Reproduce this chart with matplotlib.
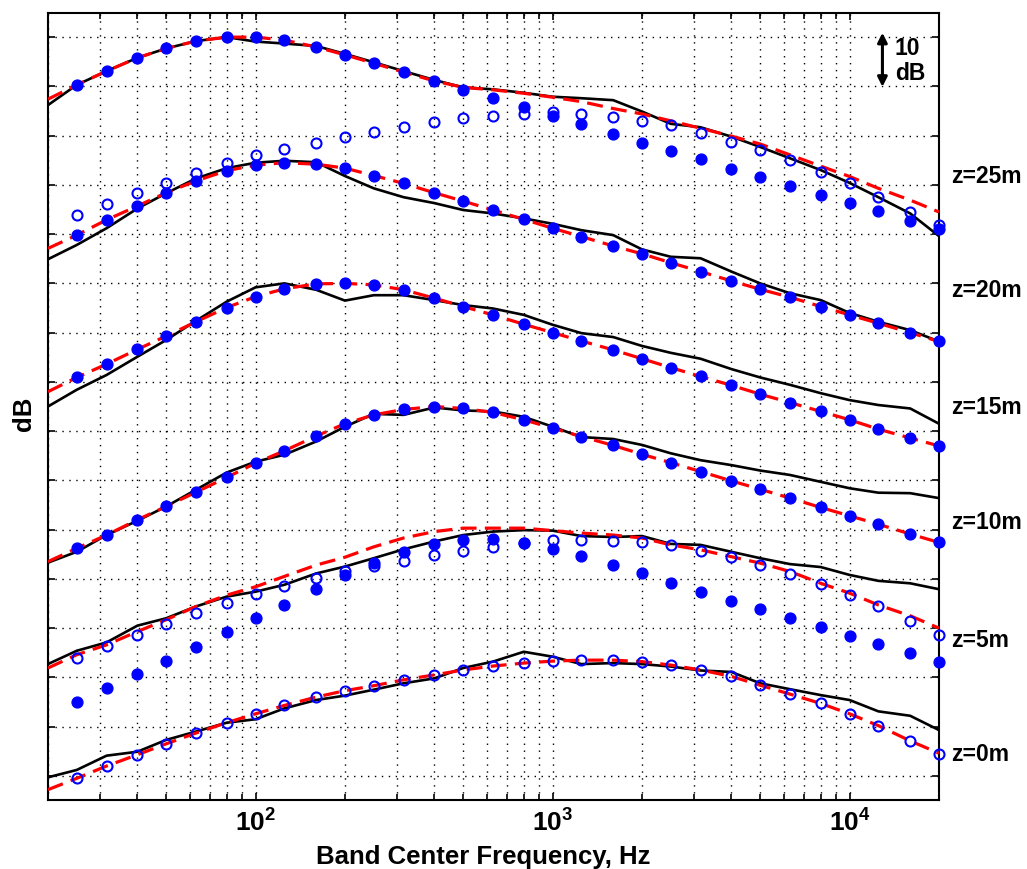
import matplotlib

matplotlib.use("Agg")
import matplotlib.pyplot as plt
from matplotlib.ticker import FixedLocator, NullFormatter

plt.rcParams["font.family"] = ["Liberation Sans", "DejaVu Sans"]
plt.rcParams["mathtext.fontset"] = "custom"
plt.rcParams["mathtext.rm"] = "Liberation Sans"
plt.rcParams["mathtext.bf"] = "Liberation Sans:bold"

# 1/3-octave band centres: curves start at 20 Hz, markers at 25 Hz
freq_line = [20, 25, 31.5, 40, 50, 63, 80, 100, 125, 160, 200, 250, 315, 400, 500,
             630, 800, 1000, 1250, 1600, 2000, 2500, 3150, 4000, 5000, 6300, 8000,
             10000, 12500, 16000, 20000]
freq_pts = freq_line[1:]

# z = 25 m
z25_solid = [136.2, 140.3, 143.1, 145.8, 147.7, 149.2, 150.0, 149.1, 148.7, 148.2, 146.6,
             144.9, 143.1, 141.3, 139.8, 139.4, 138.7, 137.9, 137.6, 137.2, 134.9, 132.4,
             131.7, 129.8, 127.7, 125.4, 123.0, 120.4, 117.5, 114.2, 109.6]
z25_dashed = [137.4, 140.3, 143.1, 145.8, 147.7, 149.2, 150.0, 150.0, 149.4, 148.0, 146.4,
              144.7, 142.9, 141.1, 139.8, 139.3, 138.6, 137.8, 136.9, 135.5, 134.4, 133.0,
              131.5, 129.9, 128.3, 126.1, 123.8, 121.7, 119.3, 116.9, 114.5]
z25_dots = [140.3, 143.1, 145.8, 147.7, 149.2, 150.0, 150.0, 149.4, 148.0, 146.4, 144.7,
            142.9, 141.1, 139.3, 137.6, 135.8, 134.0, 132.3, 130.3, 128.6, 126.9, 125.2,
            123.3, 121.5, 119.8, 118.0, 116.3, 114.6, 112.6, 111.0]
z25_rings = [113.9, 116.1, 118.3, 120.4, 122.5, 124.4, 126.0, 127.2, 128.6, 129.8, 130.7,
             131.8, 132.7, 133.5, 134.0, 134.4, 134.7, 134.4, 133.8, 133.0, 132.1, 130.6,
             128.8, 127.1, 125.0, 122.7, 120.3, 117.5, 114.5, 111.8]

# z = 20 m
z20_solid = [104.9, 107.8, 111.2, 115.2, 118.3, 121.3, 123.4, 124.5, 124.9, 124.6, 121.8,
             119.3, 117.5, 116.3, 114.9, 114.2, 113.2, 112.1, 110.8, 109.8, 106.9, 105.4,
             105.1, 102.4, 100.0, 98.0, 96.6, 94.0, 92.2, 90.5, 88.2]
z20_dashed = [107.1, 109.8, 112.9, 115.7, 118.4, 120.8, 122.9, 124.0, 124.5, 124.2, 123.4,
              121.9, 120.3, 118.4, 116.7, 114.9, 113.0, 111.2, 109.5, 107.6, 106.0, 104.2,
              102.4, 100.5, 98.8, 97.2, 95.3, 93.6, 91.9, 90.0, 88.2]
z20_dots = [109.8, 112.9, 115.7, 118.4, 120.8, 122.9, 124.0, 124.5, 124.2, 123.4, 121.9,
            120.3, 118.4, 116.7, 114.9, 113.0, 111.2, 109.5, 107.6, 106.0, 104.2, 102.4,
            100.5, 98.8, 97.2, 95.3, 93.6, 91.9, 90.0, 88.2]

# z = 15 m
z15_solid = [75.0, 78.4, 81.4, 85.1, 88.5, 92.4, 96.3, 99.2, 100.0, 98.7, 96.5, 97.6, 97.6,
             96.6, 95.6, 94.9, 93.6, 91.6, 89.9, 89.1, 87.3, 85.9, 84.7, 82.6, 80.9, 79.4,
             77.7, 76.3, 75.3, 74.6, 71.5]
z15_dashed = [78.0, 80.9, 83.6, 86.6, 89.3, 92.2, 95.1, 97.3, 98.9, 99.9, 100.0, 99.7, 98.7,
              97.0, 95.3, 93.6, 91.7, 90.0, 88.3, 86.5, 84.7, 82.9, 81.1, 79.3, 77.5, 75.8,
              74.0, 72.3, 70.4, 68.6, 67.0]
z15_dots = [80.9, 83.6, 86.6, 89.3, 92.2, 95.1, 97.3, 98.9, 99.9, 100.0, 99.7, 98.7, 97.0,
            95.3, 93.6, 91.7, 90.0, 88.3, 86.5, 84.7, 82.9, 81.1, 79.3, 77.5, 75.8, 74.0,
            72.3, 70.4, 68.6, 67.0]

# z = 10 m
z10_solid = [43.3, 45.5, 48.9, 51.8, 54.7, 58.1, 61.6, 63.8, 65.2, 67.9, 70.9, 73.5, 73.3,
             74.8, 74.2, 74.0, 72.9, 70.9, 68.8, 68.4, 67.2, 65.5, 64.1, 63.1, 62.0, 61.1,
             59.7, 58.4, 57.5, 57.4, 56.4]
z10_dashed = [43.5, 46.2, 48.9, 52.0, 54.7, 57.6, 60.6, 63.5, 66.0, 69.0, 71.5, 73.3, 74.4,
              75.0, 74.6, 73.8, 72.3, 70.6, 68.9, 67.1, 65.3, 63.6, 61.8, 59.9, 58.2, 56.4,
              54.5, 52.8, 51.1, 49.1, 47.4]
z10_dots = [46.2, 48.9, 52.0, 54.7, 57.6, 60.6, 63.5, 66.0, 69.0, 71.5, 73.3, 74.4, 75.0,
            74.6, 73.8, 72.3, 70.6, 68.9, 67.1, 65.3, 63.6, 61.8, 59.9, 58.2, 56.4, 54.5,
            52.8, 51.1, 49.1, 47.4]

# z = 5 m
z5_solid = [22.7, 25.4, 27.1, 30.5, 32.0, 34.4, 36.4, 37.4, 38.8, 41.1, 42.5, 44.2, 46.0,
            47.6, 48.9, 49.6, 49.9, 49.8, 48.7, 48.5, 48.7, 47.1, 46.9, 45.5, 44.2, 43.0,
            42.4, 40.8, 39.6, 39.1, 37.9]
z5_dashed = [21.9, 24.6, 26.6, 29.3, 31.7, 34.4, 36.7, 38.4, 40.5, 42.8, 44.4, 46.5, 48.3,
             49.6, 50.3, 50.3, 50.3, 49.8, 49.3, 48.9, 48.3, 46.9, 45.9, 44.5, 43.2, 41.5,
             39.1, 37.1, 34.7, 32.5, 30.0]
z5_dots = [14.9, 17.8, 20.7, 23.4, 26.2, 29.2, 32.0, 34.7, 37.9, 40.8, 43.3, 45.5, 47.0,
           47.9, 48.0, 47.2, 46.0, 44.7, 42.8, 41.1, 39.2, 37.4, 35.6, 33.9, 32.1, 30.2,
           28.4, 26.8, 24.9, 23.2]
z5_rings = [23.9, 26.4, 28.6, 30.8, 33.0, 35.2, 36.9, 38.6, 40.1, 41.5, 42.6, 43.6, 44.8,
            45.7, 46.5, 47.2, 47.8, 47.8, 47.7, 47.4, 46.8, 45.7, 44.4, 42.8, 40.9, 38.9,
            36.7, 34.4, 31.5, 28.6]

# z = 0 m
z0_solid = [-0.3, 1.2, 4.1, 4.9, 7.3, 9.0, 10.8, 11.5, 13.7, 15.4, 16.3, 17.5, 18.8, 19.8,
            21.9, 23.2, 25.2, 24.2, 22.7, 22.9, 22.7, 22.2, 21.4, 21.1, 18.8, 17.6, 16.4,
            15.4, 13.1, 12.2, 9.3]
z0_dashed = [-2.8, -0.5, 2.0, 4.3, 6.5, 8.7, 10.8, 12.6, 14.3, 16.0, 17.3, 18.3, 19.5, 20.5,
             21.5, 22.3, 22.9, 23.3, 23.5, 23.5, 23.2, 22.5, 21.5, 20.2, 18.4, 16.6, 14.7,
             12.6, 10.2, 7.1, 4.6]
z0_rings = [-0.5, 2.0, 4.3, 6.5, 8.7, 10.8, 12.6, 14.3, 16.0, 17.3, 18.3, 19.5, 20.5, 21.5,
            22.3, 22.9, 23.3, 23.5, 23.5, 23.2, 22.5, 21.5, 20.2, 18.4, 16.6, 14.7, 12.6,
            10.2, 7.1, 4.5]

depth_labels = ["z=25m", "z=20m", "z=15m", "z=10m", "z=5m", "z=0m"]
label_y = [121.8, 98.5, 74.7, 51.4, 27.4, 4.3]

groups = [
    (z25_solid, z25_dashed, z25_dots, z25_rings),
    (z20_solid, z20_dashed, z20_dots, None),
    (z15_solid, z15_dashed, z15_dots, None),
    (z10_solid, z10_dashed, z10_dots, None),
    (z5_solid, z5_dashed, z5_dots, z5_rings),
    (z0_solid, z0_dashed, None, z0_rings),
]

fig = plt.figure(figsize=(10.27, 8.69), dpi=100)
ax = fig.add_axes([0.0467, 0.0794, 0.8676, 0.9062])

for solid, dashed, dots, rings in groups:
    ax.plot(freq_line, solid, color="black", lw=1.9, zorder=3)
    ax.plot(freq_line, dashed, color="red", lw=2.3, ls=(0, (5, 2.6)), zorder=4)
    if dots is not None:
        ax.plot(freq_pts, dots, "o", color="blue", ms=7.8, mec="blue", zorder=5, clip_on=False)
    if rings is not None:
        ax.plot(freq_pts, rings, "o", mfc="none", mec="blue", mew=1.5, ms=7.2, zorder=6,
                clip_on=False)

ax.set_xscale("log")
ax.set_xlim(20, 20000)
ax.set_ylim(-4.9, 155)

ax.set_xticks([100, 1000, 10000])
ax.set_xticklabels([r"$\mathbf{10^{2}}$", r"$\mathbf{10^{3}}$", r"$\mathbf{10^{4}}$"])
minor = [m * d for d in (10, 100, 1000, 10000) for m in range(2, 10) if 20 <= m * d <= 20000]
ax.xaxis.set_minor_locator(FixedLocator(minor))
ax.xaxis.set_minor_formatter(NullFormatter())
ax.set_yticks(range(0, 151, 10))
ax.set_yticklabels([])

ax.tick_params(which="both", direction="in", top=True, right=True, width=1.2)
ax.tick_params(which="major", length=5, labelsize=19, pad=7)
ax.tick_params(which="minor", length=4)
for s in ax.spines.values():
    s.set_linewidth(1.5)

ax.grid(which="major", axis="both", color="black", ls=(0, (1, 4)), lw=1.0)
ax.grid(which="minor", axis="x", color="black", ls=(0, (1, 4)), lw=1.0)

ax.set_xlabel("Band Center Frequency, Hz", fontsize=18.5, fontweight="bold")
ax.xaxis.set_label_coords(0.488, -0.057)
ax.set_ylabel("dB", fontsize=18.5, fontweight="bold")
ax.yaxis.set_label_coords(-0.0135, 0.49)

trans = ax.get_yaxis_transform()
for lab, y in zip(depth_labels, label_y):
    ax.text(1.014, y, lab, transform=trans, fontsize=16.5, fontweight="bold",
            ha="left", va="center", clip_on=False)

# 10 dB scale bar
ax.annotate("", xy=(12900, 139.9), xytext=(12900, 150.9),
            arrowprops=dict(arrowstyle="<|-|>", color="black", lw=2.2, mutation_scale=14,
                            shrinkA=0, shrinkB=0), zorder=7)
ax.text(14200, 147.6, "10", fontsize=16.5, fontweight="bold", ha="left", va="center")
ax.text(14200, 142.6, "dB", fontsize=16.5, fontweight="bold", ha="left", va="center")

fig.savefig("out.png", dpi=100)
